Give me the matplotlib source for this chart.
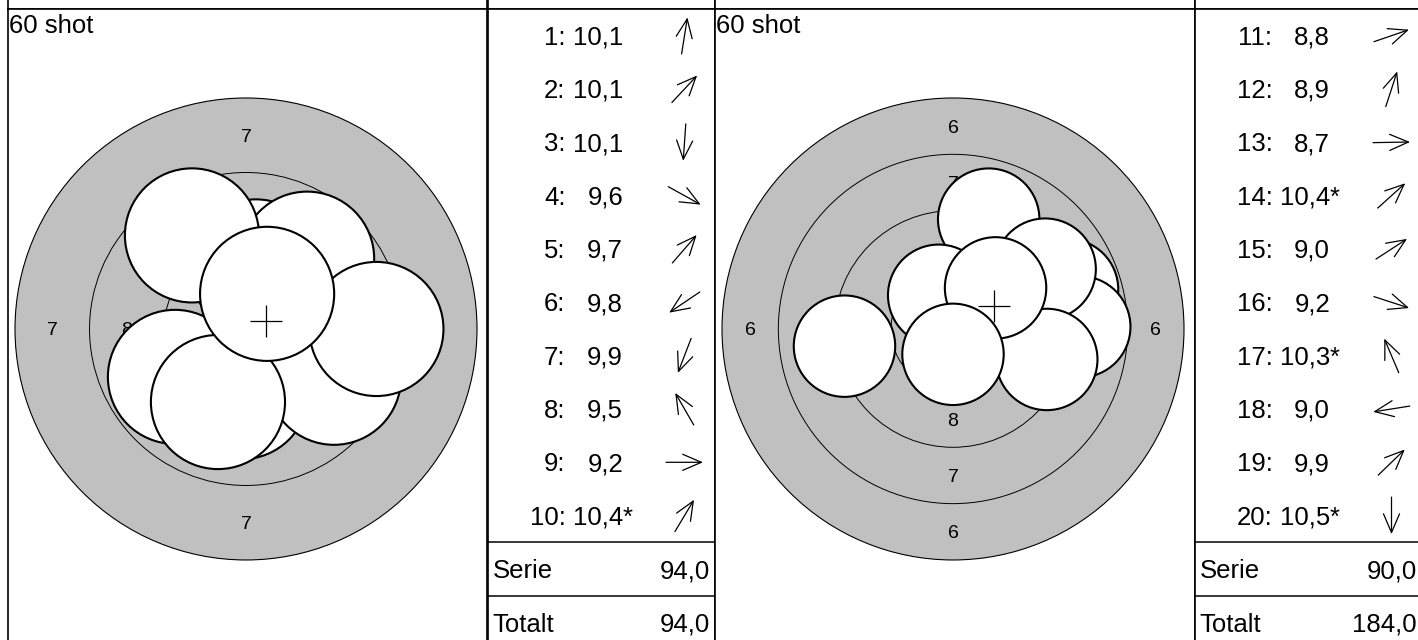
import math
import matplotlib
matplotlib.use('Agg')
import matplotlib.pyplot as plt
from matplotlib.patches import Circle, FancyArrowPatch

plt.rcParams['font.family'] = ['Liberation Sans', 'DejaVu Sans']

# two series of 10 shots: decimal score, direction of the hit from the centre (deg), inner ten
shot_no_1 = list(range(1, 11))
scores_1 = [10.1, 10.1, 10.1, 9.6, 9.7, 9.8, 9.9, 9.5, 9.2, 10.4]
angles_1 = [81, 47, 266, 331, 49, 214, 249, 120, 0, 59]
inner_1 = [False, False, False, False, False, False, False, False, False, True]

shot_no_2 = list(range(11, 21))
scores_2 = [8.8, 8.9, 8.7, 10.4, 9.0, 9.2, 10.3, 9.0, 9.9, 10.5]
angles_2 = [19, 72, 1, 42, 33, 342, 113, 189, 44, 270]
inner_2 = [False, False, False, True, False, False, True, False, False, True]

title = '60 shot'
row_labels = ['Serie', 'Totalt']

# 10 m air rifle target (mm)
PELLET_R = 2.25
GRAY = '#c0c0c0'
FS = 18.5


def ring_r(n):
    return 0.25 + (10 - n) * 2.5


def fmt(v):
    return f'{v:.1f}'.replace('.', ',')


# layout in pixels
W, H = 1418, 640
TOP = 9
ROW_H = 53.33
N_ROWS = 12
TARGET_W = 479.5
TABLE_W = 227
PANEL_X = [8, 715]
CX = 238          # target centre from left edge of target cell
R_PX = 231        # radius of outermost ring drawn

fig = plt.figure(figsize=(W / 100, H / 100), dpi=100)


def add_axes(x0, w, y_top, h):
    ax = fig.add_axes([x0 / W, (H - y_top - h) / H, w / W, h / H])
    ax.set_xticks([])
    ax.set_yticks([])
    for s in ax.spines.values():
        s.set_linewidth(1.2)
    return ax


def draw_target(ax, scores, angles):
    dist = [(10.95 - s) * 2.5 for s in scores]
    xs = [d * math.cos(math.radians(a)) for d, a in zip(dist, angles)]
    ys = [d * math.sin(math.radians(a)) for d, a in zip(dist, angles)]
    need = max(dist) + PELLET_R
    outer = max(n for n in range(1, 11) if ring_r(n) >= need)

    ax.add_patch(Circle((0, 0), ring_r(outer), fc=GRAY, ec='black', lw=0.8, zorder=1))
    for n in range(outer + 1, 11):
        ax.add_patch(Circle((0, 0), ring_r(n), fill=False, ec='black', lw=0.7, zorder=2))
    for n in range(outer, 9):
        rm = (ring_r(n) + ring_r(n + 1)) / 2
        for dx, dy in [(0, 1), (0, -1), (-1, 0), (1, 0)]:
            ax.text(dx * rm, dy * rm, str(n), ha='center', va='center_baseline',
                    fontsize=14, zorder=3)
    for i, (x, y) in enumerate(zip(xs, ys)):
        ax.add_patch(Circle((x, y), PELLET_R, fc='white', ec='black', lw=1.5, zorder=5 + i))
    # mean point of impact
    mx = sum(xs) / len(xs)
    my = sum(ys) / len(ys)
    ax.plot(mx, my, marker='+', ms=23, mew=0.9, color='black', zorder=40)

    ppm = R_PX / ring_r(outer)
    ax.set_xlim(-CX / ppm, (TARGET_W - CX) / ppm)
    half_h = N_ROWS * ROW_H / 2 / ppm
    ax.set_ylim(-half_h, half_h)
    ax.text(1 / TARGET_W, 1 - 24 / (N_ROWS * ROW_H), title, transform=ax.transAxes,
            ha='left', va='baseline', fontsize=FS)


def draw_table(ax, nos, scores, angles, inner, total):
    ax.set_xlim(0, TABLE_W)
    ax.set_ylim(N_ROWS * ROW_H, 0)
    for i, (no, s, a, inn) in enumerate(zip(nos, scores, angles, inner)):
        yc = (i + 0.5) * ROW_H
        ax.text(78, yc + 9, f'{no}:', ha='right', va='baseline', fontsize=FS)
        ax.text(135.5, yc + 9, fmt(s), ha='right', va='baseline', fontsize=FS)
        if inn:
            ax.text(135.5, yc + 9, '*', ha='left', va='baseline', fontsize=FS)
        half = 18.5
        dx = half * math.cos(math.radians(a))
        dy = -half * math.sin(math.radians(a))
        ax.add_patch(FancyArrowPatch((197 - dx, yc - dy), (197 + dx, yc + dy),
                                     arrowstyle='->,head_length=13.5,head_width=5.8',
                                     mutation_scale=1, lw=0.9, color='black',
                                     shrinkA=0, shrinkB=0))
    serie = sum(int(round(s * 10)) // 10 for s in scores)
    for j, (lab, val) in enumerate(zip(row_labels, [serie, total])):
        yc = (10 + j + 0.5) * ROW_H
        ax.text(5, yc + 9.5, lab, ha='left', va='baseline', fontsize=FS)
        ax.text(TABLE_W - 5, yc + 9.5, fmt(val), ha='right', va='baseline', fontsize=FS)
    for k in (10, 11):
        ax.axhline(k * ROW_H, color='black', lw=1.1)
    return serie


series = [(shot_no_1, scores_1, angles_1, inner_1), (shot_no_2, scores_2, angles_2, inner_2)]
running = 0
for x0, (nos, sc, an, inn) in zip(PANEL_X, series):
    add_axes(x0, TARGET_W, TOP - ROW_H, ROW_H)
    add_axes(x0 + TARGET_W, TABLE_W, TOP - ROW_H, ROW_H)
    ax_t = add_axes(x0, TARGET_W, TOP, N_ROWS * ROW_H)
    draw_target(ax_t, sc, an)
    ax_tab = add_axes(x0 + TARGET_W, TABLE_W, TOP, N_ROWS * ROW_H)
    running += sum(int(round(s * 10)) // 10 for s in sc)
    draw_table(ax_tab, nos, sc, an, inn, running)

fig.savefig('out.png', dpi=100)
